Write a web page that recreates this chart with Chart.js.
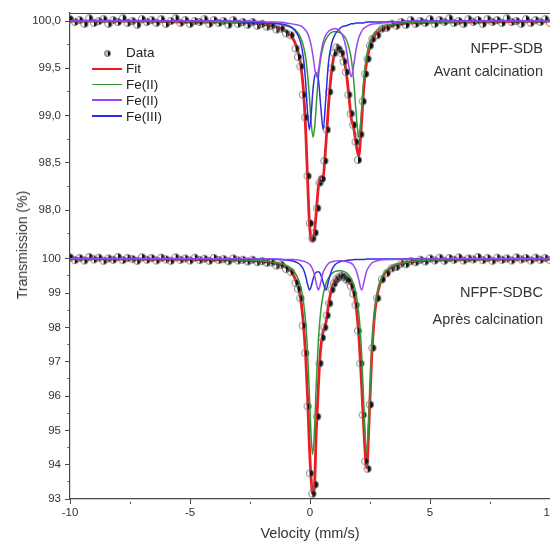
<!DOCTYPE html>
<html>
<head>
<meta charset="utf-8">
<title>Spectres Mössbauer NFPF</title>
<script src="https://cdn.jsdelivr.net/npm/chart.js@4.4.0/dist/chart.umd.min.js"></script>
<style>
  html, body { margin: 0; padding: 0; background: #fff; width: 550px; height: 541px; overflow: hidden; }
  body { position: relative; font-family: "Liberation Sans", Arial, sans-serif; color: #333; }
  .wrap { position: absolute; left: 0; }
  #topWrap { top: 0; }
  #bottomWrap { top: 245px; }
  .note { position: absolute; right: 7px; font-size: 14.5px; line-height: 17px; white-space: nowrap; color: #333; }
  #yTitle { position: absolute; left: 22px; top: 245px; transform: translate(-50%, -50%) rotate(-90deg);
            font-size: 14px; white-space: nowrap; color: #333; }
  #legend { position: absolute; left: 92px; top: 45px; font-size: 13.5px; color: #222; }
  .legend-row { height: 15.8px; display: flex; align-items: center; }
  .legend-key { position: relative; width: 30px; height: 15.8px; margin-right: 4px; }
  .legend-line { position: absolute; left: 0; right: 0; top: 7px; height: 2px; }
  .legend-dot { position: absolute; left: 12px; top: 5px; width: 5px; height: 5px; border-radius: 50%;
                border: 1px solid #666; background: linear-gradient(90deg, #bbb 50%, #111 50%); }
</style>
</head>
<body>
<div class="wrap" id="topWrap"><canvas id="topChart" width="570" height="245"></canvas></div>
<div class="wrap" id="bottomWrap"><canvas id="bottomChart" width="570" height="300"></canvas></div>
<div id="yTitle">Transmission (%)</div>
<div id="legend"></div>
<div class="note" style="top:39.5px">NFPF-SDB</div>
<div class="note" style="top:62.5px">Avant calcination</div>
<div class="note" style="top:283.5px">NFPF-SDBC</div>
<div class="note" style="top:310.5px">Après calcination</div>
<script>
// Velocity channels of the measured points (mm/s)
const velData = [
  -10.0, -9.8, -9.6, -9.4, -9.2, -9.0, -8.8, -8.6, -8.4, -8.2,
  -8.0, -7.8, -7.6, -7.4, -7.2, -7.0, -6.8, -6.6, -6.4, -6.2,
  -6.0, -5.8, -5.6, -5.4, -5.2, -5.0, -4.8, -4.6, -4.4, -4.2,
  -4.0, -3.8, -3.6, -3.4, -3.2, -3.0, -2.8, -2.6, -2.4, -2.2,
  -2.0, -1.8, -1.6, -1.4, -1.2, -1.0, -0.8,
  -0.6, -0.5, -0.4, -0.3, -0.2, -0.1, 0.0, 0.1, 0.2, 0.3,
  0.4, 0.5, 0.6, 0.7, 0.8, 0.9, 1.0, 1.1, 1.2, 1.3,
  1.4, 1.5, 1.6, 1.7, 1.8, 1.9, 2.0, 2.1, 2.2, 2.3,
  2.4, 2.5, 2.6,
  2.8, 3.0, 3.2, 3.4, 3.6, 3.8, 4.0, 4.2, 4.4, 4.6, 4.8,
  5.0, 5.2, 5.4, 5.6, 5.8, 6.0, 6.2, 6.4, 6.6, 6.8,
  7.0, 7.2, 7.4, 7.6, 7.8, 8.0, 8.2, 8.4, 8.6, 8.8,
  9.0, 9.2, 9.4, 9.6, 9.8, 10.0
];

// Measured transmission, before calcination (NFPF-SDB)
const dataTop = [
  100.02, 99.99, 100.01, 99.97, 100.03, 99.98, 100.00, 100.02, 99.97, 100.01,
  99.99, 100.03, 99.98, 100.00, 99.96, 100.02, 99.99, 100.01, 99.98, 100.02,
  99.97, 100.00, 100.03, 99.98, 100.01, 99.97, 100.00, 99.99, 100.02, 99.97,
  100.01, 99.98, 100.00, 99.96, 100.01, 99.97, 99.99, 99.96, 99.99, 99.95,
  99.97, 99.94, 99.95, 99.91, 99.92, 99.87, 99.85,
  99.71, 99.62, 99.52, 99.22, 98.98, 98.36, 97.86, 97.70, 97.76, 98.02,
  98.29, 98.33, 98.52, 98.85, 99.25, 99.50, 99.66, 99.72, 99.70, 99.66,
  99.57, 99.46, 99.22, 99.02, 98.90, 98.72, 98.53, 98.80, 99.15, 99.44,
  99.60, 99.74, 99.81,
  99.85, 99.92, 99.93, 99.97, 99.95, 99.99, 99.96, 100.01, 99.97, 100.00, 99.98,
  100.02, 99.97, 100.01, 99.99, 100.03, 99.98, 100.00, 99.97, 100.02, 99.99,
  100.01, 99.97, 100.02, 99.99, 100.01, 99.98, 100.03, 99.99, 100.00, 99.97,
  100.02, 99.98, 100.01, 99.99, 100.02, 99.98
];

// Measured transmission, after calcination (NFPF-SDBC)
const dataBottom = [
  100.04, 99.96, 100.02, 99.95, 100.05, 99.98, 100.03, 99.94, 100.01, 99.97,
  100.05, 99.96, 100.02, 99.99, 99.94, 100.04, 99.97, 100.02, 99.95, 100.03,
  99.98, 99.94, 100.04, 99.97, 100.01, 99.95, 100.03, 99.96, 100.00, 99.94,
  100.02, 99.96, 99.99, 99.93, 100.01, 99.95, 99.97, 99.92, 99.97, 99.90,
  99.93, 99.88, 99.89, 99.80, 99.82, 99.70, 99.62,
  99.30, 99.12, 98.85, 98.05, 97.25, 95.70, 93.75, 93.15, 93.42, 95.40,
  96.95, 97.70, 98.00, 98.35, 98.70, 99.10, 99.28, 99.40, 99.46, 99.50,
  99.47, 99.40, 99.36, 99.20, 98.98, 98.65, 97.90, 96.95, 95.45, 94.10,
  93.88, 95.75, 97.40,
  98.85, 99.40, 99.58, 99.72, 99.76, 99.86, 99.84, 99.93, 99.90, 99.97, 99.92,
  100.01, 99.95, 100.03, 99.94, 100.02, 99.97, 100.04, 99.95, 100.01, 99.98,
  100.05, 99.96, 100.02, 99.94, 100.03, 99.97, 100.01, 99.95, 100.04, 99.98,
  100.02, 99.95, 100.03, 99.97, 100.02, 99.96
];

// Fitted curves, before calcination
const velTop = [
  -10, -7, -5, -3.5, -2.5, -1.8, -1.3, -1.0, -0.75, -0.55,
  -0.4, -0.28, -0.18, -0.1, -0.03, 0.05, 0.13, 0.2, 0.28, 0.36,
  0.45, 0.55, 0.65, 0.77, 0.9, 1.05, 1.2, 1.35, 1.5, 1.62,
  1.72, 1.82, 1.92, 2.03, 2.13, 2.23, 2.35, 2.5, 2.7, 3.0,
  3.5, 4.3, 5.5, 7, 10
];
const fitTop = [
  100.00, 100.00, 99.99, 99.99, 99.98, 99.96, 99.93, 99.89, 99.83, 99.72,
  99.56, 99.29, 98.85, 98.32, 97.89, 97.68, 97.67, 97.80, 98.04, 98.27,
  98.35, 98.36, 98.65, 99.10, 99.47, 99.67, 99.69, 99.65, 99.48, 99.21,
  98.97, 98.87, 98.70, 98.57, 98.86, 99.25, 99.55, 99.73, 99.85, 99.91,
  99.96, 99.98, 99.99, 99.99, 100.00
];
const fe2aTop = [
  100.00, 100.00, 100.00, 99.99, 99.99, 99.98, 99.97, 99.95, 99.93, 99.89,
  99.83, 99.74, 99.61, 99.43, 99.22, 98.92, 98.77, 98.89, 99.18, 99.43,
  99.61, 99.73, 99.80, 99.85, 99.88, 99.89, 99.88, 99.86, 99.81, 99.72,
  99.60, 99.37, 99.03, 98.77, 98.99, 99.35, 99.62, 99.79, 99.88, 99.94,
  99.97, 99.99, 99.99, 100.00, 100.00
];
const fe2bTop = [
  100.00, 100.00, 100.00, 100.00, 100.00, 99.99, 99.99, 99.98, 99.97, 99.96,
  99.95, 99.93, 99.90, 99.87, 99.82, 99.74, 99.62, 99.49, 99.41, 99.49,
  99.65, 99.78, 99.85, 99.89, 99.91, 99.92, 99.90, 99.85, 99.72, 99.52,
  99.41, 99.53, 99.70, 99.82, 99.88, 99.92, 99.94, 99.96, 99.97, 99.98,
  99.99, 100.00, 100.00, 100.00, 100.00
];
const fe3Top = [
  100.00, 100.00, 100.00, 100.00, 99.99, 99.98, 99.97, 99.96, 99.93, 99.87,
  99.78, 99.62, 99.35, 99.02, 98.85, 99.02, 99.29, 99.42, 99.45, 99.36,
  99.09, 98.85, 99.15, 99.56, 99.76, 99.86, 99.91, 99.94, 99.95, 99.96,
  99.97, 99.97, 99.98, 99.98, 99.98, 99.98, 99.99, 99.99, 99.99, 99.99,
  99.99, 100.00, 100.00, 100.00, 100.00
];

// Fitted curves, after calcination
const velBottom = [
  -10, -7, -5, -3.5, -2.5, -1.8, -1.3, -1.0, -0.75, -0.55,
  -0.4, -0.28, -0.18, -0.1, -0.02, 0.05, 0.11, 0.18, 0.26, 0.35,
  0.44, 0.55, 0.66, 0.78, 0.9, 1.05, 1.2, 1.35, 1.5, 1.65,
  1.8, 1.92, 2.03, 2.15, 2.26, 2.36, 2.46, 2.57, 2.7, 2.85,
  3.05, 3.4, 4.0, 5.0, 7, 10
];
const fitBottom = [
  100.00, 99.99, 99.98, 99.97, 99.95, 99.91, 99.84, 99.75, 99.60, 99.28,
  98.88, 98.15, 97.15, 95.95, 94.45, 93.55, 93.15, 93.30, 94.95, 96.30,
  97.35, 97.88, 98.12, 98.69, 99.12, 99.38, 99.49, 99.51, 99.47, 99.35,
  99.07, 98.62, 97.80, 96.34, 94.80, 93.90, 95.22, 97.14, 98.43, 99.10,
  99.50, 99.75, 99.89, 99.95, 99.98, 99.99
];
const fe2aBottom = [
  100.00, 99.99, 99.99, 99.98, 99.96, 99.93, 99.87, 99.81, 99.69, 99.50,
  99.22, 98.79, 98.14, 97.27, 95.98, 94.77, 94.30, 94.91, 96.33, 97.63,
  98.42, 98.96, 99.26, 99.45, 99.56, 99.63, 99.65, 99.64, 99.60, 99.49,
  99.29, 98.97, 98.43, 97.27, 95.46, 94.34, 95.46, 97.29, 98.52, 99.17,
  99.54, 99.78, 99.90, 99.96, 99.98, 99.99
];
const fe2bBottom = [
  100.00, 100.00, 100.00, 100.00, 100.00, 99.99, 99.99, 99.98, 99.98, 99.97,
  99.95, 99.93, 99.91, 99.88, 99.84, 99.78, 99.69, 99.54, 99.29, 99.09,
  99.29, 99.61, 99.76, 99.87, 99.91, 99.93, 99.94, 99.94, 99.92, 99.89,
  99.82, 99.67, 99.39, 99.09, 99.36, 99.64, 99.77, 99.87, 99.92, 99.95,
  99.97, 99.98, 99.99, 100.00, 100.00, 100.00
];
const fe3Bottom = [
  100.00, 100.00, 100.00, 100.00, 99.99, 99.99, 99.98, 99.96, 99.94, 99.89,
  99.82, 99.70, 99.49, 99.25, 99.09, 99.19, 99.36, 99.52, 99.61, 99.62,
  99.55, 99.30, 99.09, 99.37, 99.66, 99.83, 99.90, 99.93, 99.95, 99.96,
  99.97, 99.98, 99.98, 99.98, 99.98, 99.99, 99.99, 99.99, 99.99, 99.99,
  99.99, 99.99, 100.00, 100.00, 100.00, 100.00
];

const COLORS = { fit: "#ea1d24", fe2a: "#35963a", fe2b: "#9d45f2", fe3: "#2d2de0" };
const AXIS = "#4a4a4a";
const TEXT = "#333";

document.addEventListener("DOMContentLoaded", () => {
    Chart.defaults.font.family = '"Liberation Sans", Arial, sans-serif';
    Chart.defaults.color = TEXT;

    // Half-filled circle used for the measured points
    function makeMarker() {
        const c = document.createElement("canvas");
        c.width = 10;
        c.height = 10;
        const g = c.getContext("2d");
        g.beginPath();
        g.arc(5, 5, 3.6, -Math.PI / 2, Math.PI / 2);
        g.closePath();
        g.fillStyle = "#111";
        g.fill();
        g.beginPath();
        g.arc(5, 5, 3.6, 0, Math.PI * 2);
        g.strokeStyle = "#777";
        g.lineWidth = 0.9;
        g.stroke();
        return c;
    }
    const marker = makeMarker();

    function pairs(xs, ys) {
        return xs.map((x, i) => ({ x: x, y: ys[i] }));
    }

    function curve(label, xs, ys, color, width, order) {
        return {
            label: label,
            data: pairs(xs, ys),
            showLine: true,
            borderColor: color,
            borderWidth: width,
            pointRadius: 0,
            cubicInterpolationMode: "monotone",
            fill: false,
            order: order,
        };
    }

    function points(ys) {
        return {
            label: "Data",
            data: pairs(velData, ys),
            showLine: false,
            pointStyle: marker,
            pointRadius: 4,
            order: 3,
        };
    }

    function isMajor(v, step) {
        return Math.abs(v / step - Math.round(v / step)) < 1e-6;
    }

    // minor ticks: hide the outer part of the tick so it looks shorter
    function tickDash(step) {
        return (ctx) => (ctx.tick && !isMajor(ctx.tick.value, step) ? [0, 2.5, 10] : []);
    }

    // top border of the frame
    const topFrame = {
        id: "topFrame",
        afterDraw(chart) {
            if (!chart.options.plugins.topFrame.show) return;
            const { ctx, chartArea } = chart;
            ctx.save();
            ctx.strokeStyle = AXIS;
            ctx.lineWidth = 1.2;
            ctx.beginPath();
            ctx.moveTo(chartArea.left, chartArea.top + 0.5);
            ctx.lineTo(chartArea.right, chartArea.top + 0.5);
            ctx.stroke();
            ctx.restore();
        },
    };

    function yAxis(min, max, step, limit, major, fmt) {
        return {
            min: min,
            max: max,
            afterFit: (s) => { s.width = 70; s.paddingTop = 0; s.paddingBottom = 0; },
            border: { color: AXIS, width: 1.2 },
            grid: { drawOnChartArea: false, color: AXIS, tickLength: 5, tickBorderDash: tickDash(major) },
            ticks: {
                stepSize: step,
                maxTicksLimit: limit,
                includeBounds: false,
                autoSkip: false,
                padding: 4,
                color: TEXT,
                font: { size: 11.5 },
                callback: fmt,
            },
        };
    }

    function xAxis(show) {
        const axis = {
            type: "linear",
            min: -10,
            max: 10,
            display: show,
        };
        if (!show) return axis;
        return Object.assign(axis, {
            afterFit: (s) => { s.height = 46; },
            border: { color: AXIS, width: 1.2 },
            grid: { drawOnChartArea: false, color: AXIS, tickLength: 5, tickBorderDash: tickDash(5) },
            ticks: {
                stepSize: 2.5,
                maxTicksLimit: 12,
                autoSkip: false,
                maxRotation: 0,
                padding: 2,
                color: TEXT,
                font: { size: 11.5 },
                callback: (v) => (isMajor(v, 5) ? String(v) : ""),
            },
            title: {
                display: true,
                text: "Velocity (mm/s)",
                color: TEXT,
                font: { size: 14.5 },
                padding: { top: 0, bottom: 2 },
            },
        });
    }

    function makeChart(id, sets, yScale, showX, pad, frame) {
        return new Chart(id, {
            type: "scatter",
            data: { datasets: sets },
            options: {
                responsive: false,
                animation: false,
                devicePixelRatio: 1,
                layout: { padding: pad, autoPadding: false },
                plugins: { legend: { display: false }, tooltip: { enabled: false }, topFrame: { show: frame } },
                scales: { x: xAxis(showX), y: yScale },
            },
            plugins: [topFrame],
        });
    }

    makeChart("topChart", [
        curve("Fit", velTop, fitTop, COLORS.fit, 2.8, 4),
        points(dataTop),
        curve("Fe(II)", velTop, fe2aTop, COLORS.fe2a, 1.5, 2),
        curve("Fe(III)", velTop, fe3Top, COLORS.fe3, 1.5, 1),
        curve("Fe(II)", velTop, fe2bTop, COLORS.fe2b, 1.5, 0),
    ], yAxis(97.63, 100.085, 0.25, 16, 0.5, (v) => (isMajor(v, 0.5) ? v.toFixed(1).replace(".", ",") : "")),
    false, { top: 13, right: 20, bottom: 0, left: 0 }, true);

    makeChart("bottomChart", [
        curve("Fit", velBottom, fitBottom, COLORS.fit, 2.8, 4),
        points(dataBottom),
        curve("Fe(II)", velBottom, fe2aBottom, COLORS.fe2a, 1.5, 2),
        curve("Fe(III)", velBottom, fe3Bottom, COLORS.fe3, 1.5, 1),
        curve("Fe(II)", velBottom, fe2bBottom, COLORS.fe2b, 1.5, 0),
    ], yAxis(93, 100.4, 0.5, 20, 1, (v) => (isMajor(v, 1) ? String(v) : "")),
    true, { top: 0, right: 20, bottom: 0, left: 0 }, false);

    // Legend inside the upper panel
    const legendItems = [
        { label: "Data", marker: true },
        { label: "Fit", color: COLORS.fit, width: 2.5 },
        { label: "Fe(II)", color: COLORS.fe2a, width: 1.6 },
        { label: "Fe(II)", color: COLORS.fe2b, width: 1.6 },
        { label: "Fe(III)", color: COLORS.fe3, width: 1.6 },
    ];
    const legendDiv = document.getElementById("legend");
    legendItems.forEach((item) => {
        const row = document.createElement("div");
        row.className = "legend-row";
        const key = document.createElement("span");
        key.className = "legend-key";
        const sym = document.createElement("span");
        if (item.marker) {
            sym.className = "legend-dot";
        } else {
            sym.className = "legend-line";
            sym.style.background = item.color;
            sym.style.height = item.width + "px";
        }
        key.appendChild(sym);
        const txt = document.createElement("span");
        txt.textContent = item.label;
        row.appendChild(key);
        row.appendChild(txt);
        legendDiv.appendChild(row);
    });
});
</script>
</body>
</html>
